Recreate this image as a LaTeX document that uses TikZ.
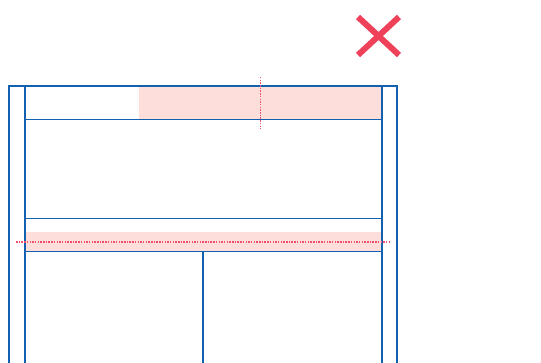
\documentclass[tikz,border=0pt]{standalone}
\definecolor{frameblue}{HTML}{1260B0}
\definecolor{bandpink}{HTML}{FDDEDB}
\definecolor{markred}{HTML}{F0415A}
\definecolor{guidepink}{HTML}{F2506E}
\tikzset{
  frame/.style={draw=frameblue, line width=1.4pt},
  band/.style={fill=bandpink},
  guide/.style={draw=guidepink, line width=1.2pt, dash pattern=on 1.5pt off 1.2pt},
  cross/.style={draw=markred, line width=6pt}
}
\begin{document}
\begin{tikzpicture}[x=1pt,y=-1pt]
\useasboundingbox (0,0) rectangle (541,363);
\clip (0,0) rectangle (541,363);
% pink bands
\path[band] (139,87) rectangle (381.5,119);
\path[band] (25,232) rectangle (381.5,251);
% outer frame
\draw[frame] (9,370) -- (9,86) -- (397,86) -- (397,370);
% inner verticals
\draw[frame] (25,86) -- (25,370);
\draw[frame] (382,86) -- (382,370);
% horizontal rules
\draw[frame] (25,119.5) -- (382,119.5);
\draw[frame] (25,218.5) -- (382,218.5);
\draw[frame] (25,251.5) -- (382,251.5);
% divider
\draw[frame] (203,251.5) -- (203,370);
% guides
\draw[guide] (260.5,77) -- (260.5,129);
\draw[guide] (16,242) -- (390,242);
% cross
\draw[cross] (358,17) -- (399,55);
\draw[cross] (399,17) -- (358,55);
\end{tikzpicture}
\end{document}
